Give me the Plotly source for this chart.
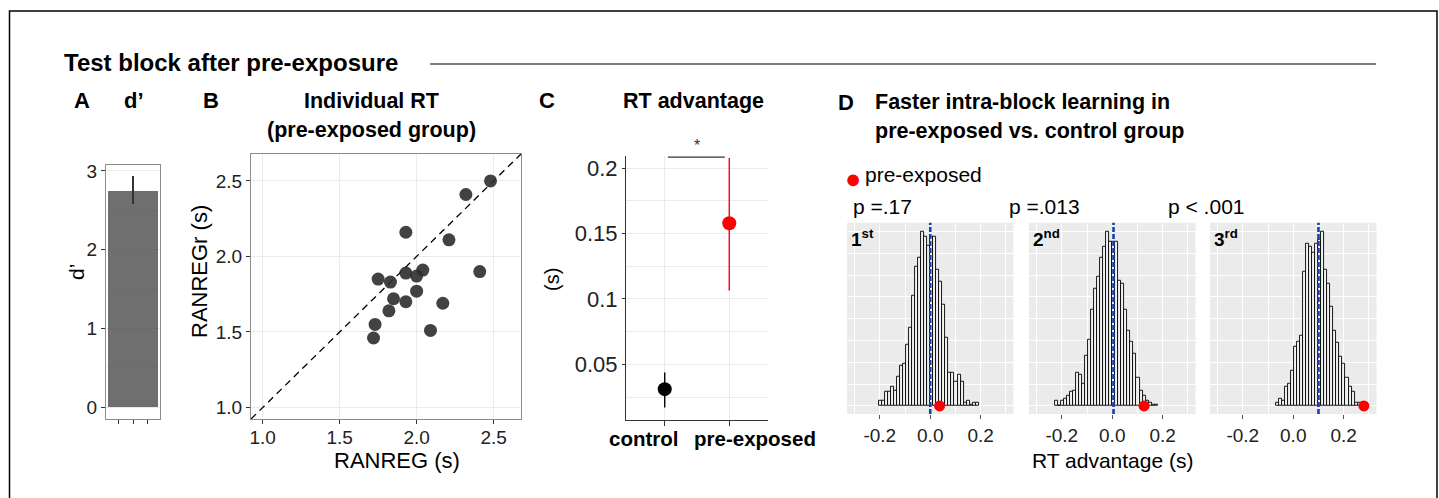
import plotly.graph_objects as go

W, H = 1439, 498
FONT = "Liberation Sans, Arial, sans-serif"

# ---------------- data ----------------
# A: discrimination (d')
dprime_mean = 2.75
dprime_err_hi = 0.18
dprime_err_lo = 0.17

# B: individual RT in pre-exposed group
ranreg = [2.48, 2.32, 1.93, 2.21, 2.41, 2.04, 1.93, 2.00, 1.75,
          1.83, 2.00, 1.85, 1.93, 2.17, 1.82, 1.73, 2.09, 1.72]
ranregr = [2.50, 2.41, 2.16, 2.11, 1.90, 1.91, 1.89, 1.87, 1.85,
           1.83, 1.77, 1.72, 1.70, 1.69, 1.64, 1.55, 1.51, 1.46]

# C: RT advantage per group
groups = ["control", "pre-exposed"]
rt_adv = [0.031, 0.158]
rt_err_hi = [0.0127, 0.0498]
rt_err_lo = [0.0141, 0.0516]

# D: permutation distributions of the RT advantage (counts per bin)
hist_binwidth = 0.012
hist_start = [-0.204, -0.228, -0.069]
hist_counts = [
    [3, 3, 8, 8, 11, 9, 17, 23, 24, 35, 45, 63, 80, 85, 100, 97, 92,
     97, 97, 78, 71, 58, 39, 19, 19, 14, 18, 14, 2, 3, 1, 2, 2],
    [3, 0, 3, 4, 6, 8, 9, 19, 18, 13, 29, 38, 55, 67, 74, 85, 91,
     100, 94, 94, 94, 72, 70, 55, 43, 37, 30, 16, 9, 6, 3, 2, 1, 1],
    [2, 4, 3, 11, 13, 20, 34, 37, 40, 77, 93, 91, 88, 93, 95, 100,
     78, 70, 57, 43, 36, 28, 24, 16, 11, 8, 2, 2, 2],
]
null_mean = [0.0, 0.005, 0.10]
observed = [0.037, 0.126, 0.28]
block_labels = ["1<sup>st</sup>", "2<sup>nd</sup>", "3<sup>rd</sup>"]
p_labels = ["p =.17", "p =.013", "p < .001"]


def fx(px):
    return px / W


def fy(py):
    return 1 - py / H


fig = go.Figure()

# ---------------- panel A ----------------
fig.add_trace(go.Bar(
    x=[0], y=[dprime_mean], width=[1.0],
    marker=dict(color="rgba(70,70,70,0.78)", line=dict(width=0)),
    error_y=dict(type="data", array=[dprime_err_hi], arrayminus=[dprime_err_lo],
                 width=0, thickness=1.6, color="#333333"),
    xaxis="x", yaxis="y", showlegend=False))

# ---------------- panel B ----------------
b_lo, b_hi = 0.924, 2.678
fig.add_trace(go.Scatter(
    x=[b_lo, b_hi], y=[b_lo, b_hi], mode="lines",
    line=dict(color="black", width=1.3, dash="7px,5px"),
    xaxis="x2", yaxis="y2", showlegend=False))
fig.add_trace(go.Scatter(
    x=ranreg, y=ranregr, mode="markers",
    marker=dict(color="rgba(45,45,45,0.9)", size=13),
    xaxis="x2", yaxis="y2", showlegend=False))

# ---------------- panel C ----------------
c_colors = ["black", "#ff0000"]
for i, g in enumerate(groups):
    fig.add_trace(go.Scatter(
        x=[i + 1], y=[rt_adv[i]], mode="markers",
        marker=dict(color=c_colors[i], size=14),
        error_y=dict(type="data", array=[rt_err_hi[i]], arrayminus=[rt_err_lo[i]],
                     width=0, thickness=1.4, color=c_colors[i]),
        xaxis="x3", yaxis="y3", showlegend=False, cliponaxis=False))

# ---------------- panel D ----------------
for k in range(3):
    xa = "x%d" % (k + 4)
    ya = "y%d" % (k + 4)
    centers = [hist_start[k] + hist_binwidth * (i + 0.5) for i in range(len(hist_counts[k]))]
    fig.add_trace(go.Bar(
        x=centers, y=hist_counts[k], width=[hist_binwidth] * len(centers),
        marker=dict(color="#f2f2f2", line=dict(color="black", width=0.9)),
        xaxis=xa, yaxis=ya, showlegend=False))
    fig.add_trace(go.Scatter(
        x=[observed[k]], y=[0], mode="markers",
        marker=dict(color="#ff0000", size=11),
        xaxis=xa, yaxis=ya, showlegend=False, cliponaxis=False))

# ---------------- axes ----------------
tickfont = dict(family=FONT, size=19, color="#222")
layout_axes = {}

layout_axes["xaxis"] = dict(
    domain=[fx(106), fx(160)], range=[-0.53, 0.53], anchor="y",
    tickvals=[-0.275, 0, 0.275], showticklabels=False, ticks="outside",
    ticklen=4, tickcolor="#333", showgrid=False, zeroline=False,
    showline=True, mirror=True, linecolor="#8c8c8c", linewidth=1)
layout_axes["yaxis"] = dict(
    domain=[fy(419), fy(165)], range=[-0.152, 3.076], anchor="x",
    tickvals=[0, 1, 2, 3], ticks="outside", ticklen=4, tickcolor="#333",
    tickfont=tickfont, gridcolor="#ebebeb", zeroline=False,
    minor=dict(tickvals=[0.5, 1.5, 2.5], showgrid=True, gridcolor="#f3f3f3"),
    showline=True, mirror=True, linecolor="#8c8c8c", linewidth=1)

layout_axes["xaxis2"] = dict(
    domain=[fx(251), fx(521)], range=[b_lo, b_hi], anchor="y2",
    tickvals=[1, 1.5, 2, 2.5], ticktext=["1.0", "1.5", "2.0", "2.5"],
    ticks="outside", ticklen=4, tickcolor="#333", tickfont=tickfont,
    ticklabelstandoff=-3,
    gridcolor="#ebebeb", zeroline=False,
    showline=True, mirror=True, linecolor="#8c8c8c", linewidth=1)
layout_axes["yaxis2"] = dict(
    domain=[fy(419), fy(154)], range=[b_lo, b_hi], anchor="x2",
    tickvals=[1, 1.5, 2, 2.5], ticktext=["1.0", "1.5", "2.0", "2.5"],
    ticks="outside", ticklen=4, tickcolor="#333", tickfont=tickfont,
    gridcolor="#ebebeb", zeroline=False,
    showline=True, mirror=True, linecolor="#8c8c8c", linewidth=1)

# category labels of C are placed as annotations below the axis
layout_axes["xaxis3"] = dict(
    domain=[fx(626), fx(768)], range=[0.4, 2.6], anchor="y3",
    tickvals=[1, 2], showticklabels=False,
    ticks="outside", ticklen=5, tickcolor="#333",
    gridcolor="#ebebeb", zeroline=False,
    showline=True, linecolor="#333", linewidth=1.2)
layout_axes["yaxis3"] = dict(
    domain=[fy(420), fy(156)], range=[0.0074, 0.2094], anchor="x3",
    tickvals=[0.05, 0.1, 0.15, 0.2], ticktext=["0.05", "0.1", "0.15", "0.2"],
    ticks="outside", ticklen=3, tickcolor="#333",
    tickfont=dict(family=FONT, size=22, color="#222"),
    gridcolor="#ebebeb", zeroline=False,
    minor=dict(tickvals=[0.025, 0.075, 0.125, 0.175], showgrid=True, gridcolor="#ebebeb"),
    showline=True, linecolor="#333", linewidth=1.2)

d_left = [847, 1029, 1210]
d_width = 166.5
for k in range(3):
    xn = "xaxis%d" % (k + 4)
    yn = "yaxis%d" % (k + 4)
    layout_axes[xn] = dict(
        domain=[fx(d_left[k]), fx(d_left[k] + d_width)], range=[-0.33, 0.33],
        anchor="y%d" % (k + 4),
        tickvals=[-0.2, 0, 0.2], ticktext=["-0.2", "0.0", "0.2"],
        ticks="outside", ticklen=4, tickcolor="#555", tickfont=tickfont,
        gridcolor="white", gridwidth=1.4, zeroline=False, showline=False,
        minor=dict(tickvals=[-0.3, -0.1, 0.1, 0.3], showgrid=True,
                   gridcolor="white", gridwidth=0.7))
    layout_axes[yn] = dict(
        domain=[fy(414), fy(222.7)], range=[-4.6, 105], anchor="x%d" % (k + 4),
        tickvals=[0, 25, 50, 75, 100], showticklabels=False, ticks="",
        gridcolor="white", gridwidth=1.4, zeroline=False, showline=False,
        minor=dict(tickvals=[12.5, 37.5, 62.5, 87.5], showgrid=True,
                   gridcolor="white", gridwidth=0.7))

for ax in layout_axes.values():
    ax["automargin"] = False
    ax["tickangle"] = 0

# ---------------- shapes ----------------
shapes = [
    # outer frame
    dict(type="rect", xref="paper", yref="paper", x0=fx(9.5), x1=fx(1437),
         y0=-0.2, y1=fy(11), line=dict(color="black", width=1.5)),
    # rule next to the heading
    dict(type="line", xref="paper", yref="paper", x0=fx(430), x1=fx(1376),
         y0=fy(64), y1=fy(64), line=dict(color="#555", width=1.5)),
    # significance bracket in C
    dict(type="line", xref="x3", yref="y3 domain", x0=1.05, x1=1.93,
         y0=0.996, y1=0.996, line=dict(color="#333", width=1.3)),
]
for k in range(3):
    shapes.append(dict(type="rect", xref="x%d domain" % (k + 4), yref="y%d domain" % (k + 4),
                       x0=0, x1=1, y0=0, y1=1, fillcolor="#ebebeb",
                       line=dict(width=0), layer="below"))
    shapes.append(dict(type="line", xref="x%d" % (k + 4), yref="y%d domain" % (k + 4),
                       x0=null_mean[k], x1=null_mean[k], y0=0, y1=1,
                       line=dict(color="#1540b0", width=2.6, dash="5px,2px")))

# ---------------- text ----------------
def note(text, x, y, size=20, bold=False, xanchor="center", color="black", **kw):
    t = "<b>%s</b>" % text if bold else text
    d = dict(text=t, x=fx(x), y=fy(y), xref="paper", yref="paper",
             xanchor=xanchor, yanchor="middle", showarrow=False,
             font=dict(family=FONT, size=size, color=color))
    d.update(kw)
    return d


annotations = [
    note("Test block after pre-exposure", 62, 62, size=24, bold=True, xanchor="left"),
    note("A", 82, 101, size=22, bold=True),
    note("d’", 134, 101, size=22, bold=True),
    note("B", 211, 101, size=22, bold=True),
    note("Individual RT", 371, 101, size=21.5, bold=True),
    note("(pre-exposed group)", 371, 130, size=21.5, bold=True),
    note("C", 547, 101, size=22, bold=True),
    note("RT advantage", 693, 101, size=21.5, bold=True),
    note("D", 846, 102, size=22, bold=True),
    note("Faster intra-block learning in", 873, 102, size=21.5, bold=True, xanchor="left"),
    note("pre-exposed vs. control group", 873, 131, size=21.5, bold=True, xanchor="left"),
    # axis titles
    note("d’", 76, 272, size=21, textangle=-90),
    note("RANREGr (s)", 199, 272, size=22, textangle=-90),
    note("RANREG (s)", 397, 460, size=22),
    note("(s)", 552, 280, size=20, textangle=-90),
    note("RT advantage (s)", 1112, 460, size=21),
    # category labels of C
    note(groups[0], 643, 438, size=20.5, bold=True),
    note(groups[1], 755, 438, size=20.5, bold=True),
    # legend for panel D
    note("●", 853, 179, size=27, color="#ff0000"),
    note("pre-exposed", 863, 174, size=21, xanchor="left"),
]
for k in range(3):
    annotations.append(dict(
        text=p_labels[k], x=fx([851, 1007, 1166][k]), y=fy(206), xref="paper", yref="paper",
        xanchor="left", yanchor="middle", showarrow=False,
        font=dict(family=FONT, size=21, color="black")))
    annotations.append(dict(
        text="<b>%s</b>" % block_labels[k], xref="x%d domain" % (k + 4),
        yref="y%d domain" % (k + 4), x=0.01, y=0.995, xanchor="left", yanchor="top",
        showarrow=False, font=dict(family=FONT, size=19, color="black")))
annotations.append(dict(
    text="*", xref="x3", yref="y3 domain", x=1.5, y=1.0, xanchor="center",
    yanchor="bottom", showarrow=False, font=dict(family=FONT, size=16, color="#333")))

fig.update_layout(
    template="none",
    width=W, height=H, margin=dict(l=0, r=0, t=0, b=0, pad=0),
    paper_bgcolor="white", plot_bgcolor="white",
    bargap=0, showlegend=False,
    font=dict(family=FONT, color="black"),
    shapes=shapes, annotations=annotations,
    **layout_axes)

fig.write_html("out.html")
